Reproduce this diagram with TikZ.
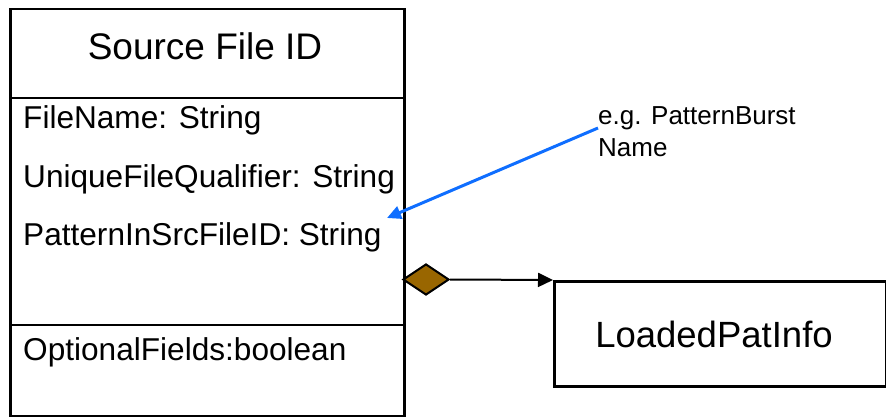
\documentclass[tikz,border=0pt]{standalone}
\usepackage{fontspec}
\setmainfont{Liberation Sans}
\usetikzlibrary{arrows.meta,shapes.geometric,calc}
\definecolor{diabrown}{HTML}{996600}
\definecolor{noteblue}{HTML}{0F6EFF}
\tikzset{
  boxline/.style={draw=black,line width=2.5pt},
  attr/.style={anchor=base west,inner sep=0pt,font=\fontsize{31.6}{36}\selectfont},
  titletext/.style={inner sep=0pt,font=\fontsize{37}{42}\selectfont},
  notetext/.style={anchor=north west,inner sep=0pt,align=left,font=\fontsize{26}{32}\selectfont},
  aggr/.style={diamond,draw=black,line width=2pt,fill=diabrown,inner sep=0pt,minimum width=46pt,minimum height=31pt},
  assoc/.style={draw=black,line width=2pt,-{Triangle[length=15pt,width=14pt]}},
  notearrow/.style={draw=noteblue,line width=3pt,-{Triangle[length=14pt,width=13pt]}}
}
\begin{document}
\begin{tikzpicture}[x=1pt,y=-1pt]
\useasboundingbox (0,0) rectangle (886,417);
% class box
\node[boxline,rectangle,minimum width=394pt,minimum height=407pt,inner sep=0pt,anchor=north west] (cls) at (9,8) {};
\coordinate (d1l) at (9,98);
\coordinate (d1r) at (403,98);
\coordinate (d2l) at (9,325);
\coordinate (d2r) at (403,325);
\draw[boxline] (d1l) -- (d1r);
\draw[boxline] (d2l) -- (d2r);
\node[titletext,anchor=base] (title) at (205,60) {Source File ID};
\node[attr] (a1) at (23,129) {FileName: String};
\node[attr] (a2) at (23,187) {UniqueFileQualifier: String};
\node[attr] (a3) at (23,245) {PatternInSrcFileID: String};
\node[attr] (a4) at (23,360) {OptionalFields:boolean};
% loaded pat info
\node[boxline,rectangle,minimum width=332pt,minimum height=105pt,inner sep=0pt,anchor=north west] (lpi) at (553,280) {};
\node[titletext,anchor=base,font=\fontsize{36.5}{42}\selectfont] (lpit) at (714,347) {LoadedPatInfo};
% aggregation diamond
\node[aggr,anchor=west] (dia) at (402,279.5) {};
\draw[assoc] (dia.east) -- (lpi.north west);
% note
\node[notetext] (note) at (598,106) {e.g. PatternBurst\\Name};
\coordinate (notetip) at (387,218);
\draw[notearrow] ($(note.north west)+(0,22)$) -- (notetip);
\end{tikzpicture}
\end{document}
